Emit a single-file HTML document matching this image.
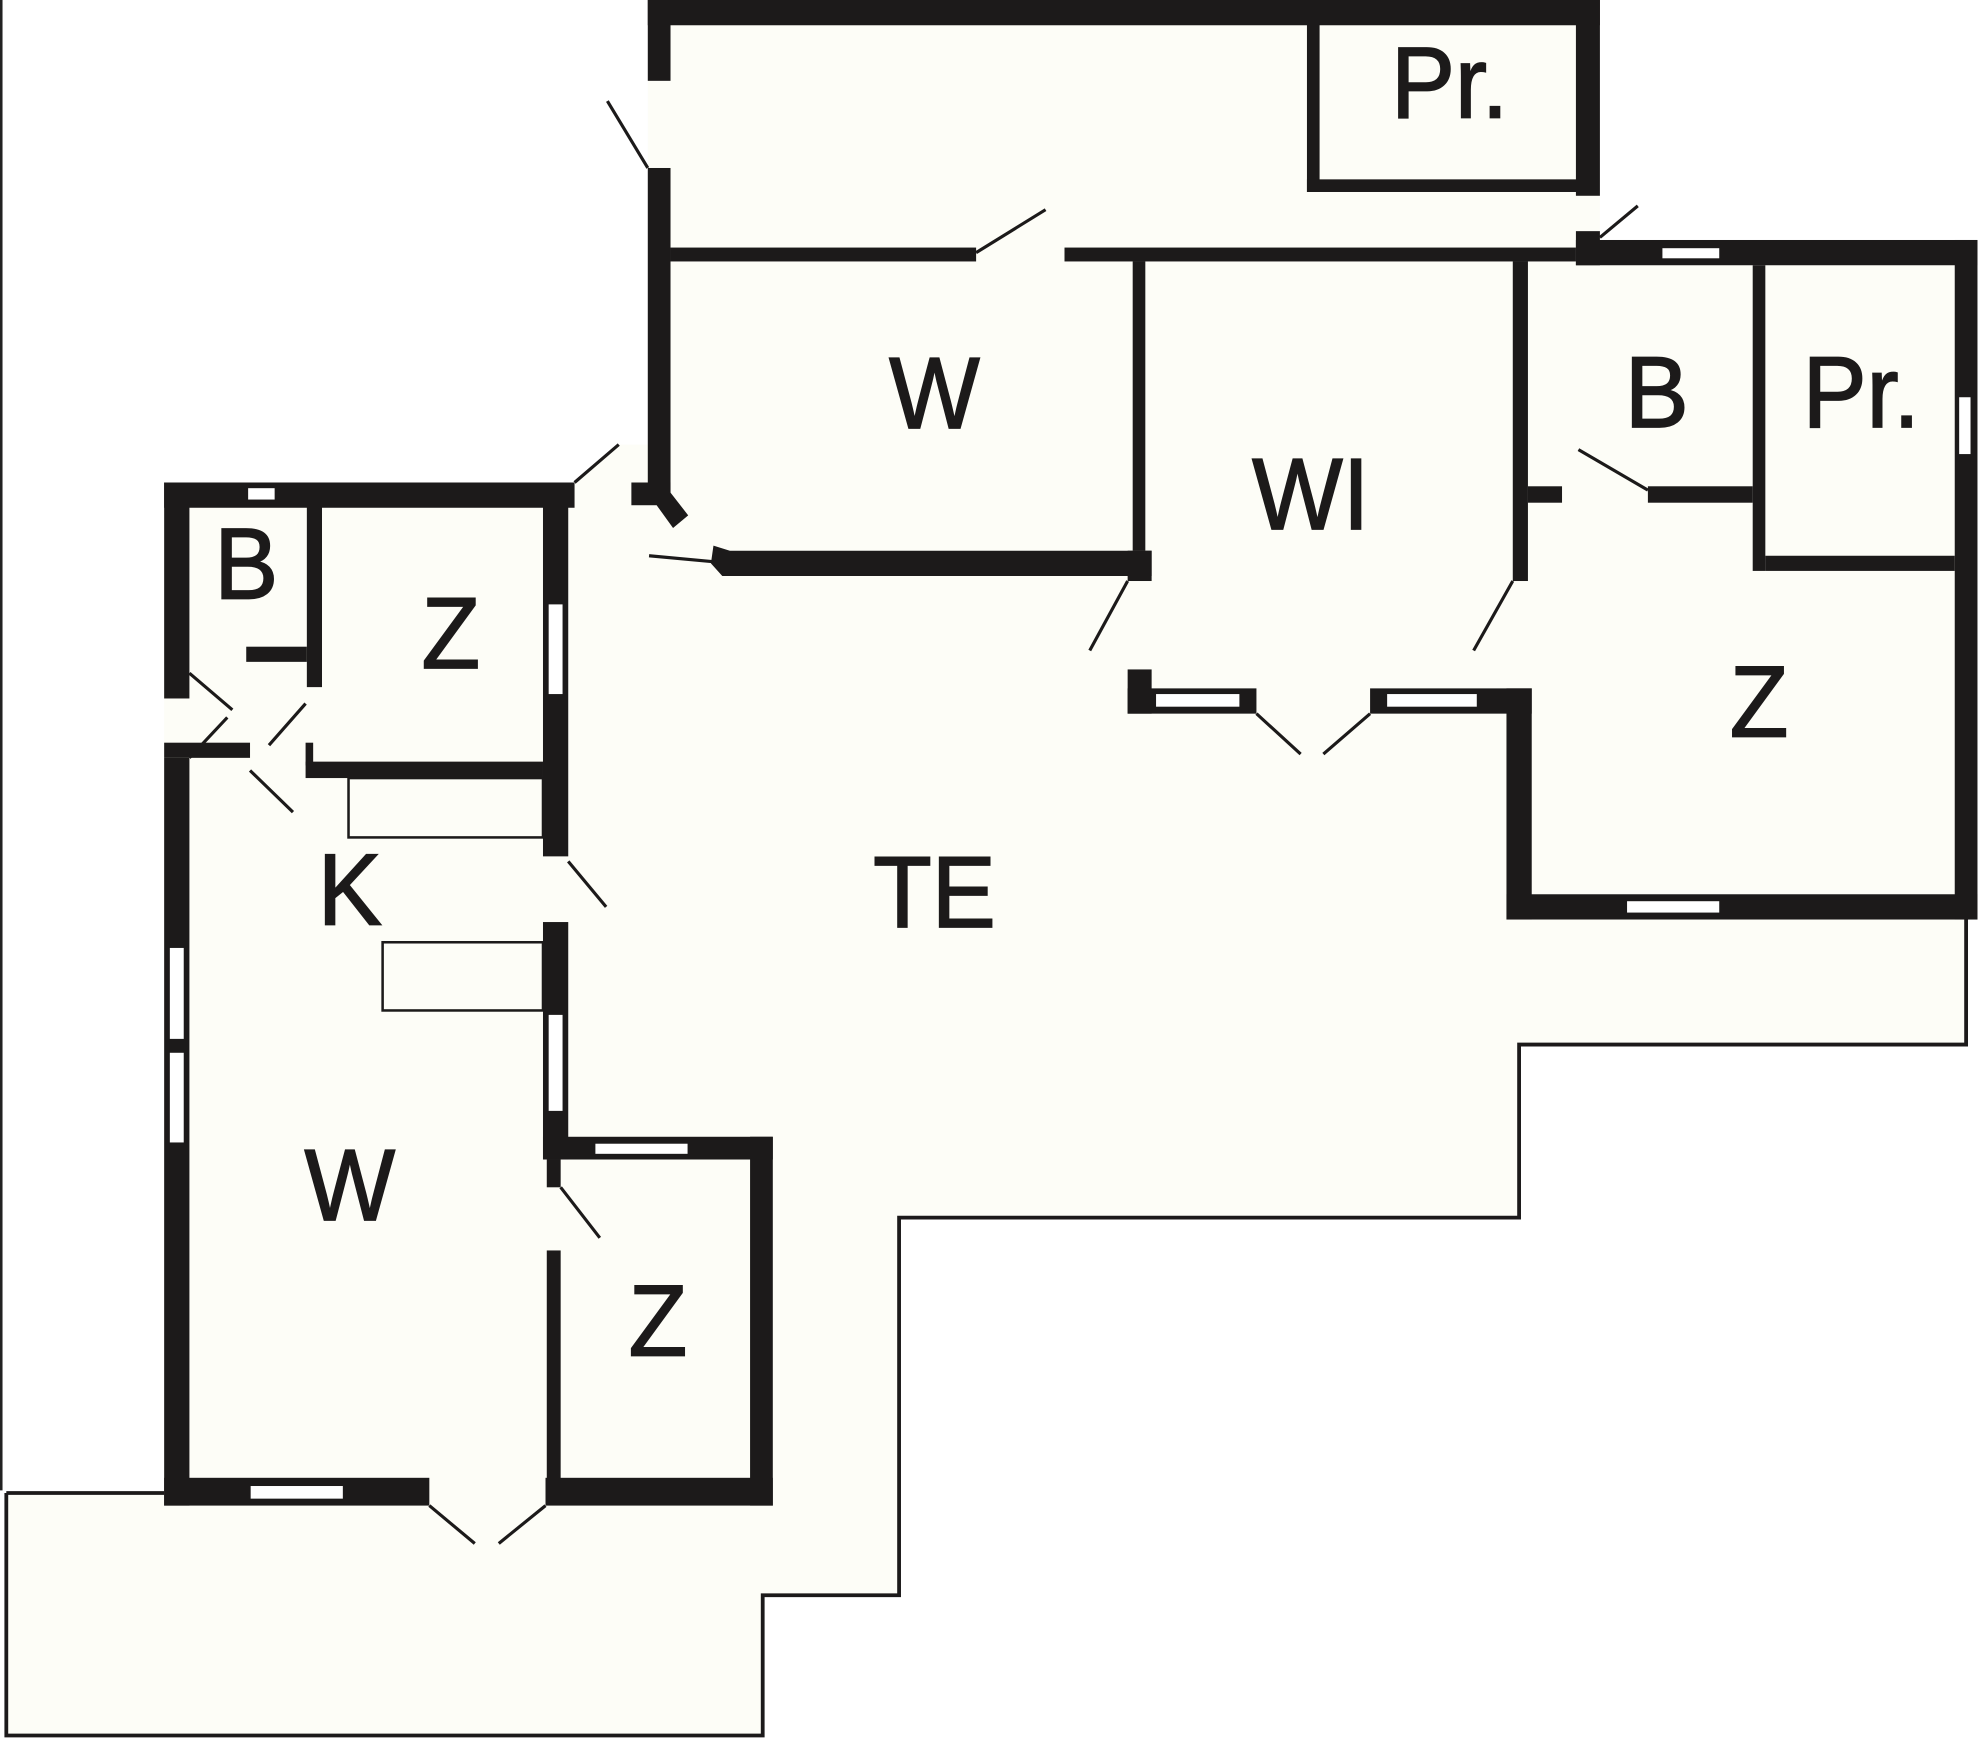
<!DOCTYPE html>
<html><head><style>html,body{margin:0;padding:0;background:#fff}svg{display:block}</style></head><body>
<svg width="1980" height="1738" viewBox="0 0 1568 1376" preserveAspectRatio="none" xmlns="http://www.w3.org/2000/svg">
<rect width="1568" height="1376" fill="#fff"/>
<line x1="1" y1="0" x2="1" y2="1180" stroke="#222" stroke-width="2"/>
<polygon points="513,0 1267,0 1267,190 1566,190 1566,728 1557,728 1557,827 1203,827 1203,964 712,964 712,1263 604,1263 604,1374 5,1374 5,1182 130,1182 130,382 455,382 490,352 513,352" fill="#fdfdf7"/>
<polyline points="5,1182 5,1374 604,1374 604,1263 712,1263 712,964 1203,964 1203,827 1557,827 1557,728" fill="none" stroke="#1c1a1a" stroke-width="3"/>
<line x1="5" y1="1182" x2="130" y2="1182" stroke="#1c1a1a" stroke-width="3"/>
<g fill="#1c1a1a">
<rect x="513" y="0" width="754" height="20"/>
<rect x="513" y="0" width="18" height="64"/>
<rect x="513" y="133" width="18" height="265"/>
<rect x="500" y="382" width="31" height="18"/>
<polygon points="520,400 531,390 545,408 533,418"/>
<polygon points="565,432 578,436 912,436 912,456 572,456 563,446"/>
<rect x="1248" y="0" width="19" height="155"/>
<rect x="1035" y="14" width="10" height="138"/>
<rect x="1035" y="142" width="215" height="10"/>
<rect x="531" y="196" width="242" height="11"/>
<rect x="843" y="196" width="405" height="11"/>
<rect x="897" y="207" width="10" height="229"/>
<rect x="893" y="436" width="19" height="24"/>
<rect x="893" y="530" width="19" height="35"/>
<rect x="893" y="545" width="102" height="20"/>
<rect x="1085" y="545" width="128" height="20"/>
<rect x="1198" y="207" width="12" height="253"/>
<rect x="1193" y="545" width="20" height="183"/>
<rect x="1210" y="385" width="27" height="13"/>
<rect x="1305" y="385" width="83" height="13"/>
<rect x="1388" y="210" width="10" height="242"/>
<rect x="1398" y="440" width="150" height="12"/>
<rect x="1248" y="183" width="19" height="27"/>
<rect x="1248" y="190" width="318" height="20"/>
<rect x="1548" y="190" width="18" height="538"/>
<rect x="1193" y="708" width="373" height="20"/>
<rect x="130" y="382" width="325" height="20"/>
<rect x="130" y="382" width="20" height="171"/>
<rect x="130" y="600" width="20" height="592"/>
<rect x="243" y="398" width="12" height="146"/>
<rect x="195" y="512" width="48" height="12"/>
<rect x="130" y="588" width="68" height="12"/>
<rect x="242" y="588" width="6" height="18"/>
<rect x="242" y="603" width="188" height="13"/>
<rect x="430" y="398" width="20" height="280"/>
<rect x="430" y="730" width="20" height="188"/>
<rect x="430" y="900" width="182" height="18"/>
<rect x="594" y="900" width="18" height="292"/>
<rect x="433" y="918" width="11" height="22"/>
<rect x="433" y="990" width="11" height="190"/>
<rect x="130" y="1170" width="210" height="22"/>
<rect x="432" y="1170" width="180" height="22"/>
</g>
<g fill="#fff" stroke="#1c1a1a" stroke-width="1">
<rect x="915" y="549" width="67" height="11"/>
<rect x="1098" y="549" width="72" height="11"/>
<rect x="1316" y="196" width="46" height="9"/>
<rect x="1551" y="314" width="10" height="46"/>
<rect x="1288" y="713" width="74" height="10"/>
<rect x="196" y="386" width="22" height="10"/>
<rect x="134" y="750" width="12" height="73"/>
<rect x="134" y="833" width="12" height="72"/>
<rect x="434" y="478" width="12" height="72"/>
<rect x="434" y="803" width="12" height="77"/>
<rect x="471" y="905" width="74" height="9"/>
<rect x="198" y="1176" width="74" height="11"/>
</g>
<g fill="none" stroke="#1c1a1a" stroke-width="2.5">
<rect x="276" y="616" width="154" height="47" stroke-width="2"/>
<rect x="303" y="746" width="127" height="54" stroke-width="2"/>
<line x1="481" y1="80" x2="513" y2="133"/>
<line x1="455" y1="382" x2="490" y2="352"/>
<line x1="773" y1="200" x2="828" y2="166"/>
<line x1="514" y1="440" x2="568" y2="445"/>
<line x1="893" y1="460" x2="863" y2="515"/>
<line x1="1198" y1="460" x2="1167" y2="515"/>
<line x1="995" y1="565" x2="1030" y2="597"/>
<line x1="1085" y1="565" x2="1048" y2="597"/>
<line x1="1250" y1="356" x2="1305" y2="388"/>
<line x1="1267" y1="188" x2="1297" y2="163"/>
<line x1="150" y1="533" x2="184" y2="562"/>
<line x1="150" y1="600" x2="180" y2="568"/>
<line x1="242" y1="557" x2="213" y2="590"/>
<line x1="198" y1="610" x2="232" y2="643"/>
<line x1="450" y1="682" x2="480" y2="718"/>
<line x1="444" y1="940" x2="475" y2="980"/>
<line x1="340" y1="1192" x2="376" y2="1222"/>
<line x1="432" y1="1192" x2="395" y2="1222"/>
</g>
<g font-family="Liberation Sans, sans-serif" font-size="80" fill="#1c1a1a" stroke="#1c1a1a" stroke-width="1.3" text-anchor="middle">
<text transform="translate(1148,93) scale(0.95,1)">Pr.</text>
<text transform="translate(740,339) scale(0.95,1)">W</text>
<text transform="translate(1038,419) scale(0.95,1)">WI</text>
<text transform="translate(1312,338) scale(0.95,1)">B</text>
<text transform="translate(1474,338) scale(0.95,1)">Pr.</text>
<text transform="translate(1393,583) scale(0.95,1)">Z</text>
<text transform="translate(740,734) scale(0.95,1)">TE</text>
<text transform="translate(195,474) scale(0.95,1)">B</text>
<text transform="translate(357,529) scale(0.95,1)">Z</text>
<text transform="translate(277,732) scale(0.95,1)">K</text>
<text transform="translate(277,966) scale(0.95,1)">W</text>
<text transform="translate(521,1073) scale(0.95,1)">Z</text>
</g>
</svg>
</body></html>
